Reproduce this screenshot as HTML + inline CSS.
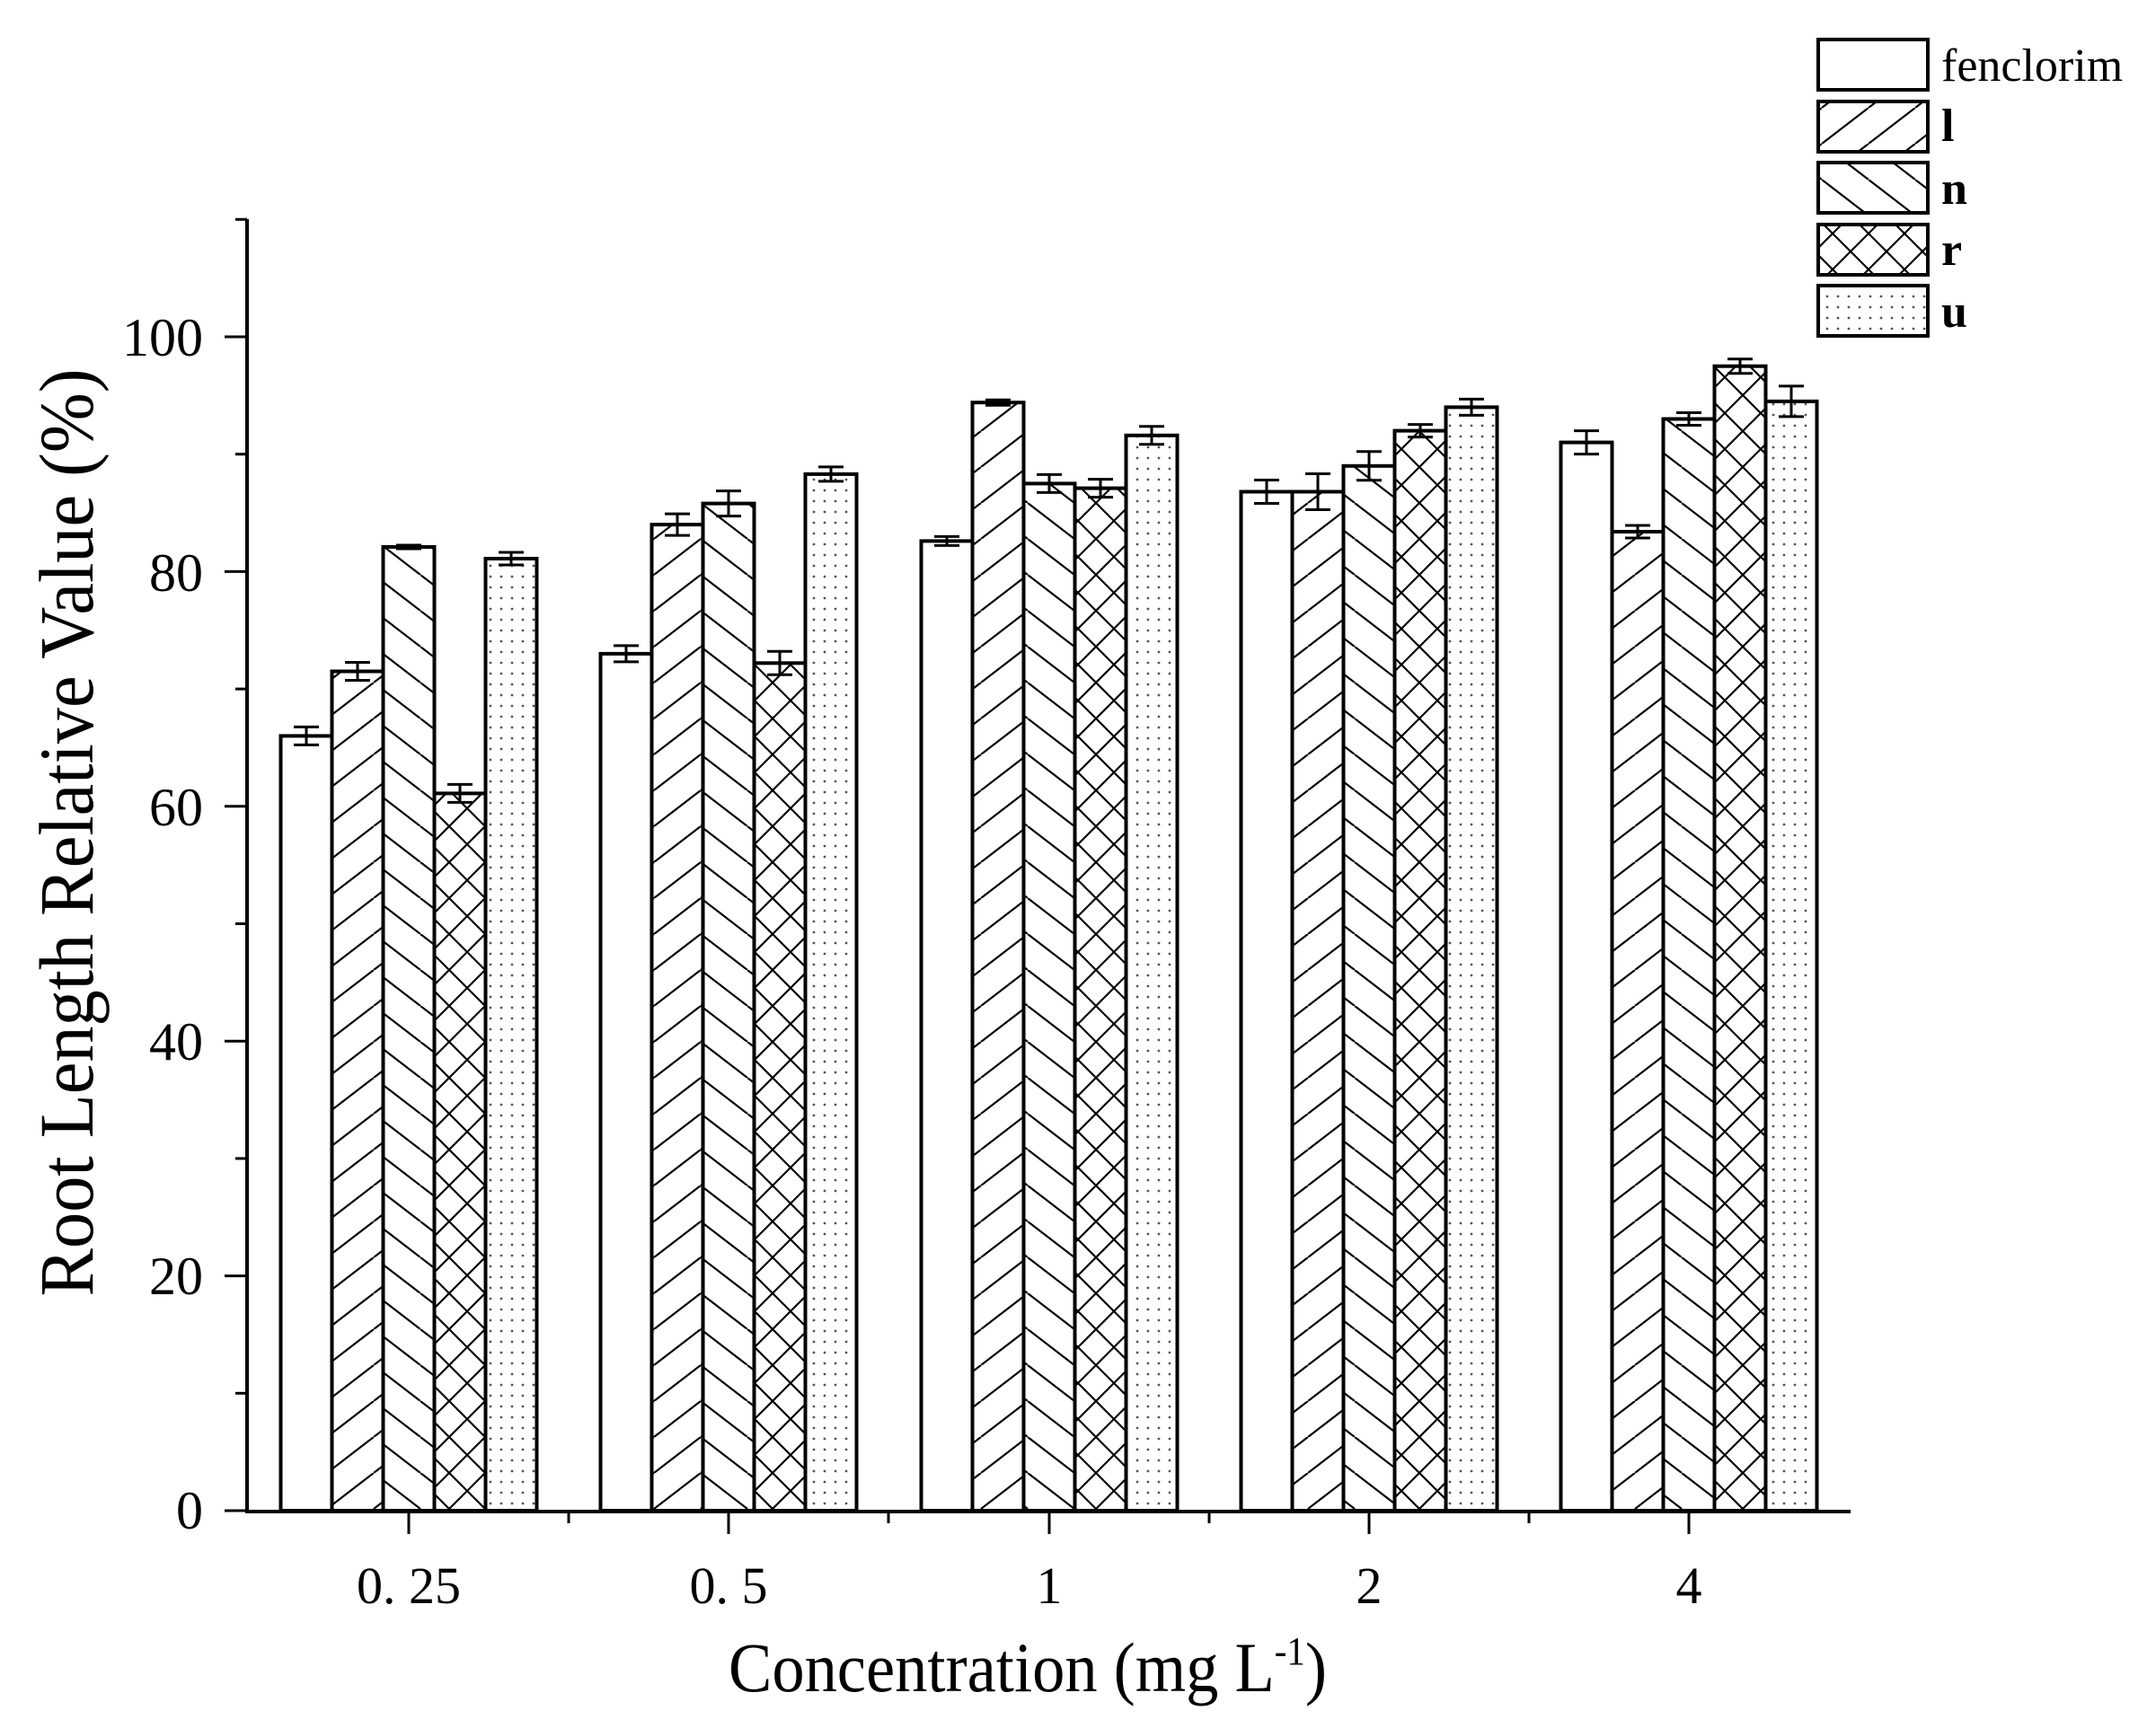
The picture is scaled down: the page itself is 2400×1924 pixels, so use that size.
<!DOCTYPE html>
<html><head><meta charset="utf-8"><style>html,body{margin:0;padding:0;background:#fff}svg{display:block}</style></head>
<body>
<svg width="2400" height="1924" viewBox="0 0 2400 1924" xmlns="http://www.w3.org/2000/svg">
<defs>
<pattern id="pl" patternUnits="userSpaceOnUse" width="52" height="40"><path d="M-52,40 L0,0 M0,40 L52,0 M52,40 L104,0" stroke="#000" stroke-width="2.2" fill="none"/></pattern>
<pattern id="pn" patternUnits="userSpaceOnUse" width="52" height="40"><path d="M-52,0 L0,40 M0,0 L52,40 M52,0 L104,40" stroke="#000" stroke-width="2.2" fill="none"/></pattern>
<pattern id="pr" patternUnits="userSpaceOnUse" width="40" height="40"><path d="M-20,40 L20,0 M20,40 L60,0 M-20,0 L20,40 M20,0 L60,40" stroke="#000" stroke-width="2.2" fill="none"/></pattern>
<pattern id="pu" patternUnits="userSpaceOnUse" width="12" height="12"><circle cx="6" cy="6" r="1.4" fill="#555"/></pattern>
</defs>
<g stroke="#000" stroke-width="4">
<rect x="312.5" y="819.4" width="57" height="862.6" fill="#fff"/>
<rect x="369.5" y="747.5" width="57" height="934.5" fill="url(#pl)"/>
<rect x="426.5" y="609.0" width="57" height="1073.0" fill="url(#pn)"/>
<rect x="483.5" y="883.4" width="57" height="798.6" fill="url(#pr)"/>
<rect x="540.5" y="622.0" width="57" height="1060.0" fill="url(#pu)"/>

<rect x="668.5" y="727.9" width="57" height="954.1" fill="#fff"/>
<rect x="725.5" y="584.1" width="57" height="1097.9" fill="url(#pl)"/>
<rect x="782.5" y="560.6" width="57" height="1121.4" fill="url(#pn)"/>
<rect x="839.5" y="738.3" width="57" height="943.7" fill="url(#pr)"/>
<rect x="896.5" y="527.9" width="57" height="1154.1" fill="url(#pu)"/>

<rect x="1025.5" y="602.4" width="57" height="1079.6" fill="#fff"/>
<rect x="1082.5" y="448.2" width="57" height="1233.8" fill="url(#pl)"/>
<rect x="1139.5" y="538.4" width="57" height="1143.6" fill="url(#pn)"/>
<rect x="1196.5" y="543.6" width="57" height="1138.4" fill="url(#pr)"/>
<rect x="1253.5" y="484.8" width="57" height="1197.2" fill="url(#pu)"/>

<rect x="1381.5" y="547.5" width="57" height="1134.5" fill="#fff"/>
<rect x="1438.5" y="547.5" width="57" height="1134.5" fill="url(#pl)"/>
<rect x="1495.5" y="518.8" width="57" height="1163.2" fill="url(#pn)"/>
<rect x="1552.5" y="479.6" width="57" height="1202.4" fill="url(#pr)"/>
<rect x="1609.5" y="453.4" width="57" height="1228.6" fill="url(#pu)"/>

<rect x="1737.5" y="492.6" width="57" height="1189.4" fill="#fff"/>
<rect x="1794.5" y="592.0" width="57" height="1090.0" fill="url(#pl)"/>
<rect x="1851.5" y="466.5" width="57" height="1215.5" fill="url(#pn)"/>
<rect x="1908.5" y="407.7" width="57" height="1274.3" fill="url(#pr)"/>
<rect x="1965.5" y="446.9" width="57" height="1235.1" fill="url(#pu)"/>
</g>
<g stroke="#000" stroke-width="3" fill="none">
<path d="M341,809.4V829.4M327,809.4h28M327,829.4h28"/>
<path d="M398,737.5V757.5M384,737.5h28M384,757.5h28"/>
<path d="M455,607V611M441,607h28M441,611h28"/>
<path d="M512,873.4V893.4M498,873.4h28M498,893.4h28"/>
<path d="M569,615V629M555,615h28M555,629h28"/>

<path d="M697,718.9V736.9M683,718.9h28M683,736.9h28"/>
<path d="M754,572.1V596.1M740,572.1h28M740,596.1h28"/>
<path d="M811,546.6V574.6M797,546.6h28M797,574.6h28"/>
<path d="M868,725.3V751.3M854,725.3h28M854,751.3h28"/>
<path d="M925,519.9V535.9M911,519.9h28M911,535.9h28"/>

<path d="M1054,597.4V607.4M1040,597.4h28M1040,607.4h28"/>
<path d="M1111,445.2V451.2M1097,445.2h28M1097,451.2h28"/>
<path d="M1168,528.4V548.4M1154,528.4h28M1154,548.4h28"/>
<path d="M1225,533.6V553.6M1211,533.6h28M1211,553.6h28"/>
<path d="M1282,474.8V494.8M1268,474.8h28M1268,494.8h28"/>

<path d="M1410,534.5V560.5M1396,534.5h28M1396,560.5h28"/>
<path d="M1467,527.5V567.5M1453,527.5h28M1453,567.5h28"/>
<path d="M1524,502.8V534.8M1510,502.8h28M1510,534.8h28"/>
<path d="M1581,472.6V486.6M1567,472.6h28M1567,486.6h28"/>
<path d="M1638,444.4V462.4M1624,444.4h28M1624,462.4h28"/>

<path d="M1766,479.6V505.6M1752,479.6h28M1752,505.6h28"/>
<path d="M1823,585V599M1809,585h28M1809,599h28"/>
<path d="M1880,459.5V473.5M1866,459.5h28M1866,473.5h28"/>
<path d="M1937,399.7V415.7M1923,399.7h28M1923,415.7h28"/>
<path d="M1994,429.9V463.9M1980,429.9h28M1980,463.9h28"/>
</g>
<g stroke="#000" fill="none">
<line x1="275" y1="244" x2="275" y2="1684" stroke-width="4"/>
<line x1="273" y1="1683" x2="2060" y2="1683" stroke-width="4"/>
</g>
<g stroke="#000" stroke-width="3">
<line x1="250" y1="1682" x2="275" y2="1682"/>
<line x1="262" y1="1551.3" x2="275" y2="1551.3"/>
<line x1="250" y1="1420.6" x2="275" y2="1420.6"/>
<line x1="262" y1="1289.9" x2="275" y2="1289.9"/>
<line x1="250" y1="1159.2" x2="275" y2="1159.2"/>
<line x1="262" y1="1028.5" x2="275" y2="1028.5"/>
<line x1="250" y1="897.8" x2="275" y2="897.8"/>
<line x1="262" y1="767.1" x2="275" y2="767.1"/>
<line x1="250" y1="636.4" x2="275" y2="636.4"/>
<line x1="262" y1="505.7" x2="275" y2="505.7"/>
<line x1="250" y1="375" x2="275" y2="375"/>
<line x1="262" y1="244.3" x2="275" y2="244.3"/>
<line x1="455" y1="1683" x2="455" y2="1708"/>
<line x1="811" y1="1683" x2="811" y2="1708"/>
<line x1="1168" y1="1683" x2="1168" y2="1708"/>
<line x1="1524" y1="1683" x2="1524" y2="1708"/>
<line x1="1880" y1="1683" x2="1880" y2="1708"/>
<line x1="633" y1="1683" x2="633" y2="1696"/>
<line x1="989" y1="1683" x2="989" y2="1696"/>
<line x1="1346" y1="1683" x2="1346" y2="1696"/>
<line x1="1702" y1="1683" x2="1702" y2="1696"/>
</g>
<g font-family="Liberation Serif, serif" font-size="60" fill="#000" text-anchor="end">
<text x="226" y="1702">0</text>
<text x="226" y="1441">20</text>
<text x="226" y="1180">40</text>
<text x="226" y="919">60</text>
<text x="226" y="658">80</text>
<text x="226" y="396">100</text>
</g>
<g font-family="Liberation Serif, serif" font-size="58" fill="#000" text-anchor="middle">
<text x="455" y="1785">0. 25</text>
<text x="811" y="1785">0. 5</text>
<text x="1168" y="1785">1</text>
<text x="1524" y="1785">2</text>
<text x="1880" y="1785">4</text>
</g>
<text x="1144" y="1883" font-family="Liberation Serif, serif" font-size="78" text-anchor="middle" textLength="666" lengthAdjust="spacingAndGlyphs">Concentration (mg L<tspan font-size="44" dy="-30">-1</tspan><tspan dy="30">)</tspan></text>
<text transform="translate(103,927) rotate(-90)" font-family="Liberation Serif, serif" font-size="86" text-anchor="middle" textLength="1033" lengthAdjust="spacingAndGlyphs">Root Length Relative Value (%)</text>
<g stroke="#000" stroke-width="4">
<rect x="2024" y="44" width="122" height="56" fill="#fff"/>
<rect x="2024" y="113" width="122" height="56" fill="url(#pl)"/>
<rect x="2024" y="181" width="122" height="56" fill="url(#pn)"/>
<rect x="2024" y="250" width="122" height="56" fill="url(#pr)"/>
<rect x="2024" y="318" width="122" height="56" fill="url(#pu)"/>
</g>
<g font-family="Liberation Serif, serif" font-size="52" fill="#000">
<text x="2161" y="90">fenclorim</text>
<text x="2161" y="157" font-weight="bold">l</text>
<text x="2161" y="227" font-weight="bold">n</text>
<text x="2161" y="295" font-weight="bold">r</text>
<text x="2161" y="364" font-weight="bold">u</text>
</g>
</svg>
</body></html>
